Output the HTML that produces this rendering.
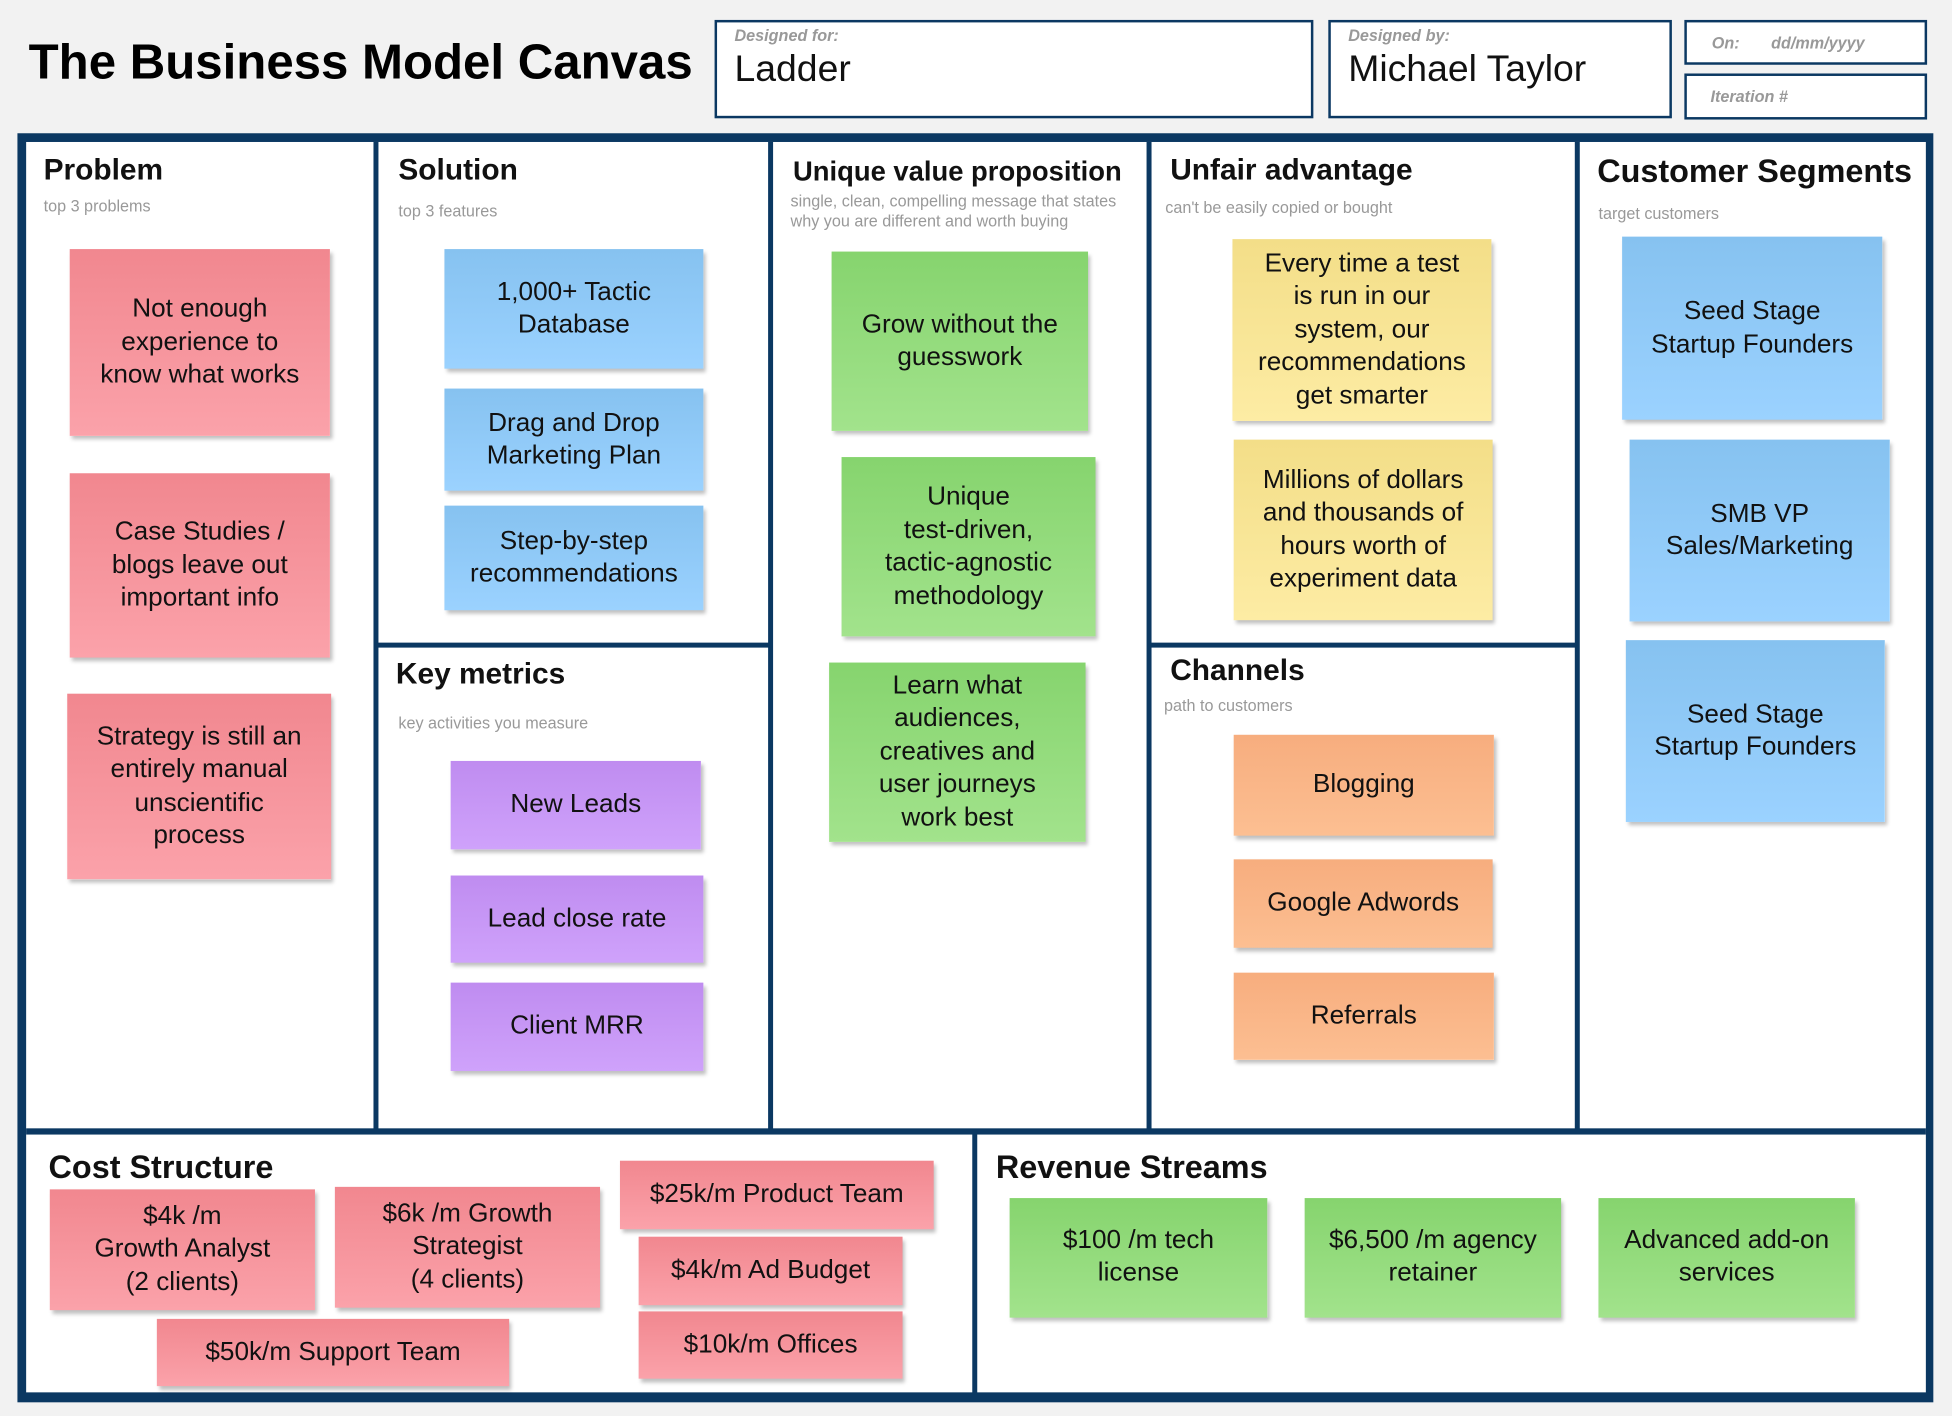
<!DOCTYPE html>
<html><head><meta charset="utf-8"><style>
html,body{margin:0;padding:0;background:#f2f2f2;width:1952px;height:1416px;overflow:hidden}
#w{position:absolute;left:0;top:0;width:1568px;height:1137px;transform:scale(1.2449,1.2454);transform-origin:0 0;font-family:"Liberation Sans",Arial,sans-serif}
.a{position:absolute}
.box{position:absolute;background:#fff;border:2px solid #0b3862;box-sizing:border-box}
.lbl{position:absolute;font-size:13px;font-style:italic;font-weight:bold;color:#999}
.big{position:absolute;font-size:30px;color:#111}
.ln{position:absolute;background:#0b3862}
.h{position:absolute;font-weight:bold;font-size:24px;color:#111;white-space:nowrap}
.s{position:absolute;font-size:13px;color:#999;line-height:16px;white-space:nowrap}
.n{position:absolute;display:flex;align-items:center;justify-content:center;text-align:center;font-size:21px;line-height:26.5px;color:#111;box-shadow:2px 3px 3px rgba(0,0,0,.25);box-sizing:border-box;padding:4px 2px;white-space:nowrap}
.p{background:linear-gradient(#f1878f,#fba2aa)}
.b{background:linear-gradient(#86c2f0,#9bd2ff)}
.g{background:linear-gradient(#86d46e,#a2e38c)}
.y{background:linear-gradient(#f3de88,#fdeca4)}
.o{background:linear-gradient(#f7ad7e,#fcbf92)}
.v{background:linear-gradient(#bf8cf0,#cfa2fb)}
</style></head><body><div id="w">
<div class="a" style="left:23px;top:28px;font-size:39.5px;font-weight:bold;color:#000">The Business Model Canvas</div>
<div class="box" style="left:574px;top:16px;width:481px;height:79px"></div>
<div class="lbl" style="left:590px;top:21px">Designed for:</div>
<div class="big" style="left:590px;top:39px">Ladder</div>
<div class="box" style="left:1067px;top:16px;width:276px;height:79px"></div>
<div class="lbl" style="left:1083px;top:21px">Designed by:</div>
<div class="big" style="left:1083px;top:39px">Michael Taylor</div>
<div class="box" style="left:1353px;top:16px;width:195px;height:36px"></div>
<div class="lbl" style="left:1375px;top:27px">On:&nbsp;&nbsp;&nbsp;&nbsp;&nbsp;&nbsp; dd/mm/yyyy</div>
<div class="box" style="left:1353px;top:59px;width:195px;height:37px"></div>
<div class="lbl" style="left:1374px;top:70px">Iteration #</div>

<div class="a" style="left:14px;top:107px;width:1539px;height:1019px;background:#0b3862"></div>
<div class="a" style="left:21px;top:114px;width:1526px;height:1004px;background:#fff"></div>
<div class="ln" style="left:300px;top:114px;width:4px;height:795px"></div>
<div class="ln" style="left:617px;top:114px;width:4px;height:795px"></div>
<div class="ln" style="left:921px;top:114px;width:4px;height:795px"></div>
<div class="ln" style="left:1265px;top:114px;width:4px;height:795px"></div>
<div class="ln" style="left:21px;top:906px;width:1526px;height:5px"></div>
<div class="ln" style="left:302px;top:516px;width:317px;height:4px"></div>
<div class="ln" style="left:923px;top:516px;width:344px;height:4px"></div>
<div class="ln" style="left:781px;top:910px;width:4px;height:210px"></div>

<div class="h" style="left:35px;top:123px">Problem</div>
<div class="s" style="left:35px;top:158px">top 3 problems</div>
<div class="h" style="left:320px;top:123px">Solution</div>
<div class="s" style="left:320px;top:162px">top 3 features</div>
<div class="h" style="left:637px;top:125px;font-size:22px">Unique value proposition</div>
<div class="s" style="left:635px;top:154px">single, clean, compelling message that states<br>why you are different and worth buying</div>
<div class="h" style="left:940px;top:123px">Unfair advantage</div>
<div class="s" style="left:936px;top:159px">can't be easily copied or bought</div>
<div class="h" style="left:1283px;top:122px;font-size:26px">Customer Segments</div>
<div class="s" style="left:1284px;top:164px">target customers</div>
<div class="h" style="left:318px;top:528px">Key metrics</div>
<div class="s" style="left:320px;top:573px">key activities you measure</div>
<div class="h" style="left:940px;top:525px">Channels</div>
<div class="s" style="left:935px;top:559px">path to customers</div>
<div class="h" style="left:39px;top:922px;font-size:26px">Cost Structure</div>
<div class="h" style="left:800px;top:922px;font-size:26px">Revenue Streams</div>

<div class="n p" style="left:56px;top:200px;width:209px;height:150px">Not enough<br>experience to<br>know what works</div>
<div class="n p" style="left:56px;top:380px;width:209px;height:148px">Case Studies /<br>blogs leave out<br>important info</div>
<div class="n p" style="left:54px;top:557px;width:212px;height:149px">Strategy is still an<br>entirely manual<br>unscientific<br>process</div>

<div class="n b" style="left:357px;top:200px;width:208px;height:96px">1,000+ Tactic<br>Database</div>
<div class="n b" style="left:357px;top:312px;width:208px;height:82px">Drag and Drop<br>Marketing Plan</div>
<div class="n b" style="left:357px;top:406px;width:208px;height:84px">Step-by-step<br>recommendations</div>

<div class="n v" style="left:362px;top:611px;width:201px;height:71px">New Leads</div>
<div class="n v" style="left:362px;top:703px;width:203px;height:70px">Lead close rate</div>
<div class="n v" style="left:362px;top:789px;width:203px;height:71px">Client MRR</div>

<div class="n g" style="left:668px;top:202px;width:206px;height:144px">Grow without the<br>guesswork</div>
<div class="n g" style="left:676px;top:367px;width:204px;height:144px">Unique<br>test-driven,<br>tactic-agnostic<br>methodology</div>
<div class="n g" style="left:666px;top:532px;width:206px;height:144px">Learn what<br>audiences,<br>creatives and<br>user journeys<br>work best</div>

<div class="n y" style="left:990px;top:192px;width:208px;height:146px">Every time a test<br>is run in our<br>system, our<br>recommendations<br>get smarter</div>
<div class="n y" style="left:991px;top:353px;width:208px;height:145px">Millions of dollars<br>and thousands of<br>hours worth of<br>experiment data</div>

<div class="n o" style="left:991px;top:590px;width:209px;height:81px">Blogging</div>
<div class="n o" style="left:991px;top:690px;width:208px;height:71px">Google Adwords</div>
<div class="n o" style="left:991px;top:781px;width:209px;height:70px">Referrals</div>

<div class="n b" style="left:1303px;top:190px;width:209px;height:147px">Seed Stage<br>Startup Founders</div>
<div class="n b" style="left:1309px;top:353px;width:209px;height:146px">SMB VP<br>Sales/Marketing</div>
<div class="n b" style="left:1306px;top:514px;width:208px;height:146px">Seed Stage<br>Startup Founders</div>

<div class="n p" style="left:40px;top:955px;width:213px;height:97px">$4k /m<br>Growth Analyst<br>(2 clients)</div>
<div class="n p" style="left:269px;top:953px;width:213px;height:97px">$6k /m Growth<br>Strategist<br>(4 clients)</div>
<div class="n p" style="left:498px;top:932px;width:252px;height:55px">$25k/m Product Team</div>
<div class="n p" style="left:513px;top:993px;width:212px;height:55px">$4k/m Ad Budget</div>
<div class="n p" style="left:513px;top:1053px;width:212px;height:54px">$10k/m Offices</div>
<div class="n p" style="left:126px;top:1059px;width:283px;height:54px">$50k/m Support Team</div>

<div class="n g" style="left:811px;top:962px;width:207px;height:96px;padding-bottom:6px">$100 /m tech<br>license</div>
<div class="n g" style="left:1048px;top:962px;width:206px;height:96px;padding-bottom:6px">$6,500 /m agency<br>retainer</div>
<div class="n g" style="left:1284px;top:962px;width:206px;height:96px;padding-bottom:6px">Advanced add-on<br>services</div>
</div></body></html>
